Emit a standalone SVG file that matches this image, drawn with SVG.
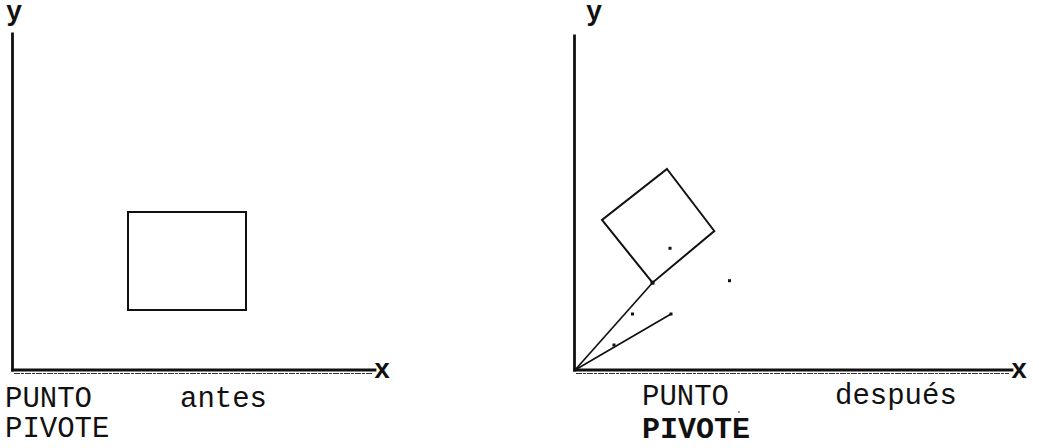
<svg xmlns="http://www.w3.org/2000/svg" width="1039" height="448" viewBox="0 0 1039 448">
<style>
.ax{stroke:#111;stroke-width:2.8;fill:none;stroke-linecap:square}
.ax2{stroke:#333;stroke-width:1.2;fill:none;stroke-dasharray:6 1 3 1}
.shape{stroke:#111;stroke-width:2;fill:none;stroke-linejoin:miter}
.conn{stroke:#111;stroke-width:1.7;fill:none}
.lbl{font-family:"Liberation Mono",monospace;font-size:29px;fill:#111}
.axl{font-family:"Liberation Mono",monospace;font-size:27px;font-weight:bold;fill:#111}
.bold{font-family:"Liberation Mono",monospace;font-size:30px;font-weight:bold;fill:#111}
.dot{fill:#111}
</style>
<rect width="1039" height="448" fill="#fff"/>

<g id="left-axes">
<line class="ax" x1="12.5" y1="34" x2="12.5" y2="370"/>
<line class="ax" x1="12.5" y1="370" x2="375" y2="370"/>
<line class="ax2" x1="14" y1="373.5" x2="372" y2="373.5"/>
<text class="axl" x="6" y="20">y</text>
<text class="axl" x="374" y="378">x</text>
</g>

<g id="left-square">
<rect class="shape" x="128" y="212" width="118" height="98"/>
</g>

<g id="left-labels">
<text class="lbl" x="5" y="407">PUNTO</text>
<text class="lbl" x="180" y="407">antes</text>
<text class="lbl" x="5" y="437">PIVOTE</text>
</g>

<g id="right-axes">
<line class="ax" x1="574.5" y1="36" x2="574.5" y2="370"/>
<line class="ax" x1="574.5" y1="370" x2="1012" y2="370"/>
<line class="ax2" x1="576" y1="373.5" x2="1009" y2="373.5"/>
<text class="axl" x="586" y="20">y</text>
<text class="axl" x="1011" y="378">x</text>
</g>

<g id="right-square">
<polygon class="shape" points="667,169 714.3,231 652.5,282.7 602,220"/>
</g>

<g id="connectors">
<line class="conn" x1="575" y1="370" x2="652.5" y2="282.7"/>
<line class="conn" x1="575" y1="370" x2="671" y2="314"/>
</g>

<g id="points">
<rect class="dot" x="650.5" y="280.7" width="4" height="4"/>
<rect class="dot" x="669.5" y="312.5" width="3" height="3"/>
<rect class="dot" x="668.5" y="246.8" width="3" height="3"/>
<rect class="dot" x="728" y="279.2" width="3" height="3"/>
<rect class="dot" x="631" y="312.5" width="3" height="3"/>
<rect class="dot" x="612.5" y="343.5" width="3" height="3"/>
<circle class="dot" cx="739" cy="412" r="0.8"/>
</g>

<g id="right-labels">
<text class="lbl" x="642" y="405">PUNTO</text>
<text class="lbl" x="835" y="404">después</text>
<text class="bold" x="642" y="438">PIVOTE</text>
</g>
</svg>
